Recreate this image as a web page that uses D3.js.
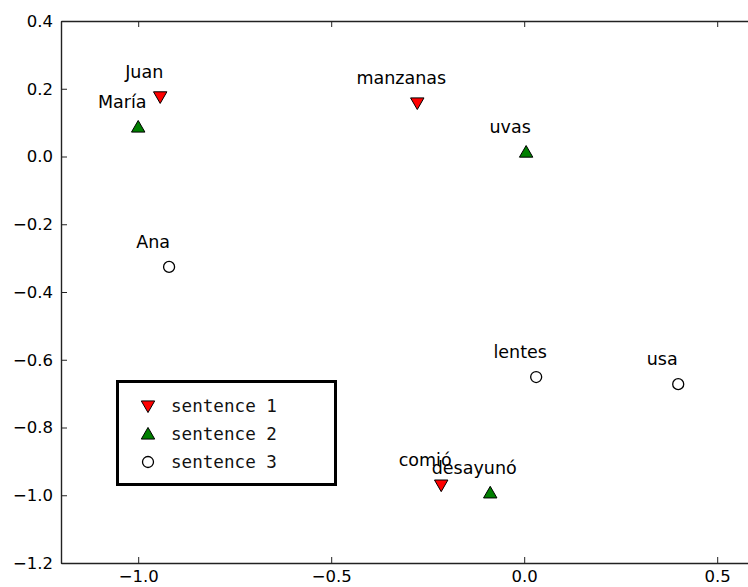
<!DOCTYPE html>
<html>
<head>
<meta charset="utf-8">
<script src="https://cdn.jsdelivr.net/npm/d3@7"></script>
<style>
  html, body { margin: 0; padding: 0; background: #fff; }
  svg { display: block; }
  .tick text { font-family: "DejaVu Sans", sans-serif; font-size: 16.5px; fill: #000; }
</style>
</head>
<body>
<svg id="chart" width="748" height="587"></svg>
<script>
'use strict';

// word embedding coordinates
var words = ['Juan', 'María', 'manzanas', 'uvas', 'Ana', 'lentes', 'usa', 'comió', 'desayunó'];
var xs = [-0.943, -1.0, -0.277, 0.005, -0.920, 0.031, 0.399, -0.215, -0.088];
var ys = [0.176, 0.087, 0.158, 0.013, -0.326, -0.651, -0.672, -0.970, -0.993];
var sentence = [1, 2, 1, 2, 3, 3, 3, 1, 2];

var legendLabels = ['sentence 1', 'sentence 2', 'sentence 3'];
var xTicks = [-1.0, -0.5, 0.0, 0.5];
var yTicks = [0.4, 0.2, 0.0, -0.2, -0.4, -0.6, -0.8, -1.0, -1.2];

(function() {
    var svg = d3.select('#chart'),
        plotLeft = 61, plotTop = 21, plotBottom = 563,
        pxPerUnit = 386;

    var x = d3.scaleLinear().domain([-1.2, 0.6]).range([plotLeft, plotLeft + 1.8 * pxPerUnit]),
        y = d3.scaleLinear().domain([-1.2, 0.4]).range([plotBottom, plotTop]);

    var fmt = d3.format('.1f');

    // marker styles per sentence
    var styles = {
        1: {shape: d3.symbolTriangle, rotate: 180, fill: '#ff0000'},
        2: {shape: d3.symbolTriangle, rotate: 0, fill: '#007f00'},
        3: {shape: d3.symbolCircle, rotate: 0, fill: '#ffffff'}
    };

    function drawMarker(g, s) {
        var st = styles[s],
            isTri = st.shape === d3.symbolTriangle;
        g.append('path')
            .attr('d', d3.symbol().type(st.shape).size(isTri ? 78 : 95)())
            .attr('transform', 'rotate(' + st.rotate + ')' + (isTri ? ' translate(0,1.2)' : ''))
            .attr('fill', st.fill)
            .attr('stroke', '#000')
            .attr('stroke-width', isTri ? 1 : 1.3);
    }

    // axes
    var axisG = svg.append('g');

    axisG.append('g')
        .attr('transform', 'translate(0,' + plotBottom + ')')
        .call(d3.axisBottom(x).tickValues(xTicks).tickFormat(fmt).tickSizeInner(-6).tickSizeOuter(0).tickPadding(7));

    axisG.append('g')
        .attr('transform', 'translate(0,' + plotTop + ')')
        .call(d3.axisTop(x).tickValues(xTicks).tickFormat('').tickSizeInner(-6).tickSizeOuter(0));

    axisG.append('g')
        .attr('transform', 'translate(' + plotLeft + ',0)')
        .call(d3.axisLeft(y).tickValues(yTicks).tickFormat(fmt).tickSizeInner(-6).tickSizeOuter(0).tickPadding(8));

    axisG.selectAll('.domain').attr('stroke', '#222').attr('stroke-width', 1.4);
    axisG.selectAll('.tick line').attr('stroke', '#222');

    // points
    var idx = d3.range(words.length);

    var pts = svg.append('g').attr('class', 'points')
        .selectAll('g.point')
        .data(idx)
        .enter().append('g')
            .attr('class', 'point')
            .attr('transform', function(i) { return 'translate(' + x(xs[i]) + ',' + y(ys[i]) + ')'; });

    pts.each(function(i) { drawMarker(d3.select(this), sentence[i]); });

    svg.append('g').attr('class', 'labels')
        .selectAll('text')
        .data(idx)
        .enter().append('text')
            .attr('x', function(i) { return x(xs[i]) - 16; })
            .attr('y', function(i) { return y(ys[i]) - 19; })
            .attr('text-anchor', 'middle')
            .style('font-family', '"DejaVu Sans", sans-serif')
            .style('font-size', '17.5px')
            .text(function(i) { return words[i]; });

    // legend
    var legend = svg.append('g').attr('class', 'legend');

    legend.append('rect')
        .attr('x', 117.5).attr('y', 381.5)
        .attr('width', 218).attr('height', 103)
        .attr('fill', '#fff')
        .attr('stroke', '#000')
        .attr('stroke-width', 3);

    var rows = legend.selectAll('g.row')
        .data(legendLabels)
        .enter().append('g')
            .attr('class', 'row')
            .attr('transform', function(d, i) { return 'translate(148,' + (406 + i * 28) + ')'; });

    rows.each(function(d, i) { drawMarker(d3.select(this), i + 1); });

    rows.append('text')
        .attr('x', 23)
        .attr('y', 6)
        .style('font-family', '"DejaVu Sans Mono", monospace')
        .style('font-size', '17.6px')
        .style('fill', '#111')
        .text(function(d) { return d; });
})();
</script>
</body>
</html>
